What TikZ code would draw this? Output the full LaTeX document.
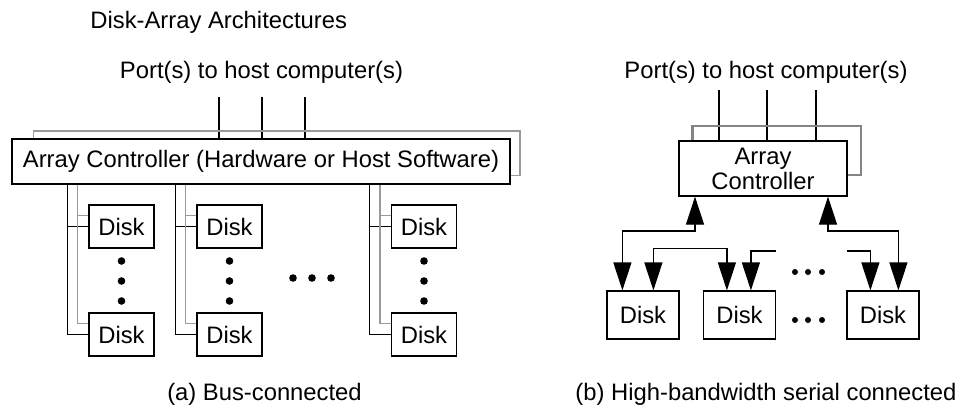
\documentclass[tikz,border=0pt]{standalone}
\usepackage{fontspec}
\setmainfont{Liberation Sans}
\usetikzlibrary{arrows.meta,calc,positioning}
\definecolor{busGray}{HTML}{9A9A9A}
\definecolor{loopGray}{HTML}{858585}
\newcommand{\figfont}{\fontsize{11.9}{12.5}\selectfont}
\tikzset{
    ctrl/.style={
        draw,
        rectangle,
        line width=0.6pt,
        inner sep=0pt,
        align=center,
        font=\figfont
    },
    disk/.style={
        draw,
        rectangle,
        line width=0.6pt,
        inner sep=0pt,
        minimum width=32.5pt,
        minimum height=21.5pt,
        font=\figfont
    },
    bigdisk/.style={
        disk,
        minimum width=36pt,
        minimum height=24pt
    },
    wire/.style={
        line width=0.55pt
    },
    graywire/.style={
        line width=0.6pt,
        draw=busGray
    },
    loopwire/.style={
        line width=1.1pt,
        draw=loopGray
    },
    link/.style={
        line width=0.6pt,
        -{Triangle[length=14pt,width=9pt]}
    },
    duplex/.style={
        line width=0.6pt,
        {Triangle[length=14pt,width=9pt]}-{Triangle[length=14pt,width=9pt]}
    },
    dot/.style={
        circle,
        fill,
        inner sep=0pt,
        minimum size=3.8pt
    },
    smalldot/.style={
        dot,
        minimum size=3pt
    },
    label/.style={
        font=\figfont,
        inner sep=0pt
    }
}

\begin{document}
\begin{tikzpicture}[x=0.5pt, y=-0.5pt]
    \useasboundingbox (0,0) rectangle (970,408);

    % Titles
    \node[label, anchor=west] (title) at (90,22) {Disk-Array Architectures};
    \node[label] (hostA) at (261.5,72) {Port(s) to host computer(s)};
    \node[label] (hostB) at (766,72) {Port(s) to host computer(s)};

    % (a) Bus-connected
    \node[ctrl, minimum width=249pt, minimum height=22.5pt] (ctrlA) at (261,161.5)
        {Array Controller (Hardware or Host Software)};

    \foreach \i/\x in {1/219, 2/262, 3/305} {
        \coordinate (pa\i) at (\x,97);
        \draw[wire] (pa\i) -- (pa\i |- ctrlA.north);
    }

    \coordinate (loopA) at (520,131);
    \draw[graywire] ($(ctrlA.north west)+(22,0)$) |- (loopA) |- ($(ctrlA.east)+(0,14)$);

    \foreach \c/\x in {1/121.5, 2/229.5, 3/424} {
        \node[disk] (dt\c) at (\x,226.5) {Disk};
        \node[disk] (db\c) at (\x,334.5) {Disk};
        \coordinate (bk\c) at ($(dt\c.west)+(-21,0)$);
        \coordinate (gr\c) at ($(dt\c.north west)+(-11,11)$);
        % black bus
        \draw[wire] (ctrlA.south -| bk\c) |- (db\c.west);
        \draw[wire] (bk\c) -- (dt\c.west);
        % gray bus
        \draw[graywire] (ctrlA.south -| gr\c) |- ($(db\c.north west)+(0,11)$);
        \draw[graywire] (gr\c) -- (gr\c -| dt\c.west);
        % vertical dots
        \foreach \y in {261, 281, 301}
            \node[dot] at (\x,\y) {};
    }
    \foreach \x in {293, 312, 331}
        \node[dot] at (\x,278) {};

    \node[label] (capA) at (264.5,394) {(a) Bus-connected};

    % (b) High-bandwidth serial connected
    \node[ctrl, minimum width=84pt, minimum height=27.5pt] (ctrlB) at (763,168.5)
        {Array\\Controller};

    \foreach \i/\x in {1/719, 2/767, 3/816} {
        \coordinate (pb\i) at (\x,90);
        \draw[wire] (pb\i) -- (pb\i |- ctrlB.north);
    }

    \coordinate (loopB) at (861,126);
    \draw[loopwire] ($(ctrlB.north west)+(14,0)$) |- (loopB) |- ($(ctrlB.east)+(0,6.5)$);

    \node[bigdisk] (dB1) at (643,315) {Disk};
    \node[bigdisk] (dB2) at (739.5,315) {Disk};
    \node[bigdisk] (dB3) at (883,315) {Disk};

    \coordinate (jL) at (695,231);
    \coordinate (jR) at (828,231);
    \draw[duplex] (ctrlB.south -| jL) -- (jL) -| ($(dB1.north west)+(16,0)$);
    \draw[duplex] (ctrlB.south -| jR) -- (jR) -| ($(dB3.north west)+(52,0)$);
    \draw[duplex] ($(dB1.north west)+(47,0)$) -- ++(0,-42) -| ($(dB2.north west)+(24,0)$);

    \coordinate (openL) at (776,251);
    \coordinate (openR) at (847,251);
    \draw[link] (openL) -| ($(dB2.north west)+(48,0)$);
    \draw[link] (openR) -| ($(dB3.north west)+(24,0)$);

    \foreach \x in {795, 808, 822} {
        \node[smalldot] at (\x,272) {};
        \node[smalldot] at (\x,320) {};
    }

    \node[label] (capB) at (766,394) {(b) High-bandwidth serial connected};
\end{tikzpicture}
\end{document}
